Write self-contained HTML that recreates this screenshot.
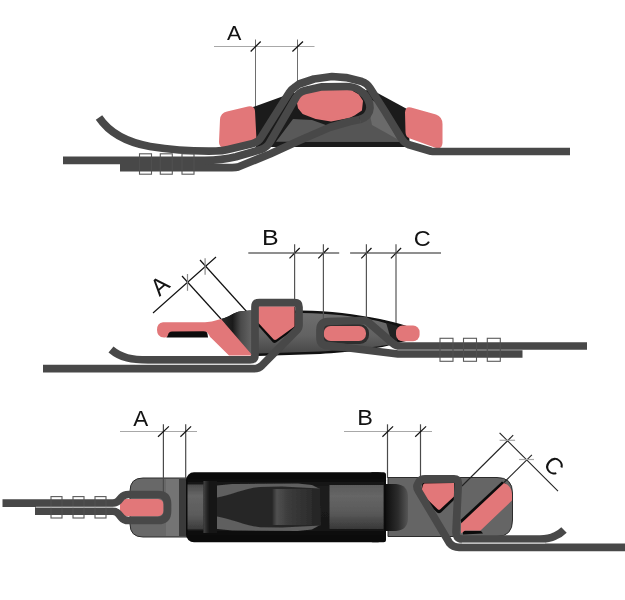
<!DOCTYPE html>
<html>
<head>
<meta charset="utf-8">
<title>Buckle webbing diagram</title>
<style>
  html, body { margin: 0; padding: 0; background: #ffffff; }
  body { width: 625px; height: 600px; overflow: hidden; font-family: "Liberation Sans", sans-serif; }
  svg { display: block; }
  .strap { fill: none; stroke: #484848; stroke-width: 7.7; stroke-linejoin: round; stroke-linecap: butt; }
  .red { fill: #e27779; }
  .lbl { opacity: 0.99; font-family: "Liberation Sans", sans-serif; font-size: 20px; fill: #111; }
  .dimh { stroke: #a8a8a8; stroke-width: 1.2; fill: none; }
  .dimv { stroke: #6e6e6e; stroke-width: 1; fill: none; }
  .tick { stroke: #111; stroke-width: 1.2; fill: none; }
  .thin { stroke: #222; stroke-width: 1.1; fill: none; }
  .sq { fill: #fff; stroke: #555; stroke-width: 1.1; }
  .sqo { fill: none; stroke: rgba(255,255,255,0.04); stroke-width: 1.2; }
</style>
</head>
<body>
<svg width="625" height="600" viewBox="0 0 625 600">
<defs>
  <linearGradient id="g2a" x1="0" y1="0" x2="1" y2="0">
    <stop offset="0" stop-color="#2a2a2a"/>
    <stop offset="0.35" stop-color="#1a1a1a"/>
    <stop offset="0.6" stop-color="#4a4a4a"/>
    <stop offset="1" stop-color="#6a6a6a"/>
  </linearGradient>
  <linearGradient id="g3neck" x1="0" y1="0" x2="1" y2="0">
    <stop offset="0" stop-color="#0f0f0f"/>
    <stop offset="0.55" stop-color="#2c2c2c"/>
    <stop offset="1" stop-color="#565656"/>
  </linearGradient>
  <linearGradient id="g3body" x1="0" y1="0" x2="0" y2="1">
    <stop offset="0" stop-color="#0b0b0b"/>
    <stop offset="0.15" stop-color="#1d1d1d"/>
    <stop offset="0.85" stop-color="#181818"/>
    <stop offset="1" stop-color="#0b0b0b"/>
  </linearGradient>
  <linearGradient id="g3v" x1="0" y1="0" x2="0" y2="1">
    <stop offset="0" stop-color="#4a4a4a"/>
    <stop offset="0.25" stop-color="#666"/>
    <stop offset="0.7" stop-color="#5a5a5a"/>
    <stop offset="1" stop-color="#3a3a3a"/>
  </linearGradient>
  <linearGradient id="g3v2" x1="0" y1="0" x2="0" y2="1">
    <stop offset="0" stop-color="#5a5a5a"/>
    <stop offset="0.25" stop-color="#666"/>
    <stop offset="0.65" stop-color="#585858"/>
    <stop offset="1" stop-color="#383838"/>
  </linearGradient>
  <linearGradient id="g3hl" x1="0" y1="0" x2="1" y2="0">
    <stop offset="0" stop-color="#272727"/>
    <stop offset="0.12" stop-color="#505050"/>
    <stop offset="0.4" stop-color="#3c3c3c"/>
    <stop offset="1" stop-color="#2c2c2c"/>
  </linearGradient>
  <linearGradient id="g3band" x1="0" y1="0" x2="1" y2="0">
    <stop offset="0" stop-color="#444"/>
    <stop offset="0.35" stop-color="#1a1a1a"/>
    <stop offset="1" stop-color="#141414"/>
  </linearGradient>
  <linearGradient id="g2b" x1="0" y1="0" x2="0" y2="1">
    <stop offset="0" stop-color="#6e6e6e"/>
    <stop offset="0.55" stop-color="#626262"/>
    <stop offset="1" stop-color="#474747"/>
  </linearGradient>
  <filter id="soft" x="-5%" y="-5%" width="110%" height="110%"><feGaussianBlur stdDeviation="0.7"/></filter>
</defs>
<rect width="625" height="600" fill="#ffffff"/>

<!-- ===================== FIGURE 1 (top) ===================== -->
<g id="fig1">
  <!-- dimension A -->
  <line class="dimh" x1="214" y1="46.5" x2="314.5" y2="46.5"/>
  <line class="dimv" x1="255.5" y1="39.5" x2="255.5" y2="108"/>
  <line class="dimv" x1="297.5" y1="39.5" x2="297.5" y2="82"/>
  <line class="tick" x1="250.7" y1="51.5" x2="260.7" y2="41.5"/>
  <line class="tick" x1="292.4" y1="51.5" x2="303" y2="41.5"/>
  <text class="lbl" transform="translate(226.96,40.2) scale(1.07725,1.05472)">A</text>

  <!-- stitch boxes -->
  <rect class="sq" x="139.5" y="153.8" width="12" height="20.4"/>
  <rect class="sq" x="160.3" y="153.8" width="12" height="20.4"/>
  <rect class="sq" x="182" y="153.8" width="12" height="20.4"/>

  <!-- buckle body -->
  <path d="M253,107 L292,93 L372,90 L407,109 L410,147 L256,147 Z" fill="#1b1b1b"/>
  <path d="M276,141.7 L293,119 L312,120 L330,126.5 L348,123 L368,117 L380,108 L399.5,141.7 Z" fill="#595959"/>
  <path d="M296,141.7 L300,140.3 L330,127.3 L350,121.5 L368,117 L380,108 L399.5,141.7 Z" fill="#555"/>
  <path d="M366,96 L378,104 L397,139 L372,125 Z" fill="#6a6a6a"/>

  <!-- red pads -->
  <path class="red" d="M227,111.5 L248,106.5 Q254.5,105.5 255,111 L256.5,140 L225,147.5 Q219,148 219,142 L220,119.5 Q220.5,113 227,111.5 Z"/>
  <path class="red" d="M411,107.5 L436,114.5 Q442.5,117 442.5,124 L442.5,143 Q442,149.5 436,148 L410,138.5 Q405.5,137 405.5,132 L405,112.5 Q405.5,106 411,107.5 Z"/>
  <path class="red" d="M298,103 L300,98 L305,94 L325,90 L351,91 L358,95 L362,101 L361,110 L355,114 L349,117 L331,120.5 L316,118 L303,113 L299,108 Z" stroke="#e27779" stroke-width="2" stroke-linejoin="round"/>

  <!-- straps -->
  <path class="strap" d="M360,119.5 L350,121.5 L330,127.3 L300,140.3 L270,154 L238,167 Q236,167.6 232,167.6 L120,167.6"/>
  <path class="strap" d="M63,160.4 L205,160.4 Q222,160.2 236,156.7 L261,149.5 Q267,147.5 270,142 L296,97.5 Q299,92 305,90.5 L322,86.8 L347,86.5 Q356,86.5 362,92 Q370,99 370,108 Q369.5,116.5 360,119.5"/>
  <path class="strap" d="M99,117.5 C110,134 128,142.5 150,146.5 C172,150 200,151.3 216,151 Q222,151 228,149.5 L252,143.8 Q258,142.5 261,137.5 L289,93 Q291,89.5 295,87 L299,84 L314,79 L332,76.5 L346,77.6 L362,81.6 Q367,83.2 370,88 L385,111.5 L401.5,138.5 Q404,143 409,144.8 L431,151.2 Q432.5,151.5 436,151.5 L570,151.5"/>

  <rect class="sqo" x="139.5" y="153.8" width="12" height="20.4"/>
  <rect class="sqo" x="160.3" y="153.8" width="12" height="20.4"/>
  <rect class="sqo" x="182" y="153.8" width="12" height="20.4"/>
</g>

<!-- ===================== FIGURE 2 (middle) ===================== -->
<g id="fig2">
  <!-- dimension B / C -->
  <line class="dimh" style="stroke:#6a6a6a;stroke-width:1.4" x1="248.3" y1="253" x2="339.2" y2="253"/>
  <line class="dimh" style="stroke:#6a6a6a;stroke-width:1.4" x1="350.1" y1="253" x2="441" y2="253"/>
  <line class="tick" x1="289.5" y1="258.3" x2="299.7" y2="248"/>
  <line class="tick" x1="318.3" y1="258.3" x2="328.5" y2="248"/>
  <line class="tick" x1="361.3" y1="258.3" x2="371.5" y2="248"/>
  <line class="tick" x1="390.9" y1="258.3" x2="401.1" y2="248"/>
  <text class="lbl" transform="translate(261.95,245.3) scale(1.24928,1.09773)">B</text>
  <text class="lbl" transform="translate(413.7,245.6) scale(1.17658,1.14381)">C</text>
  <!-- dimension A (angled) -->
  <line class="tick" x1="153" y1="313" x2="216" y2="257"/>
  <line class="tick" x1="182" y1="276" x2="221" y2="319"/>
  <line class="tick" x1="200" y1="260" x2="247" y2="312"/>
  <line class="dimh" style="stroke:#8a8a8a" x1="187.5" y1="274" x2="187.5" y2="290.8"/>
  <line class="dimh" style="stroke:#8a8a8a" x1="205.1" y1="258.3" x2="205.1" y2="274.8"/>
  <text class="lbl" transform="translate(159.8,285.65) rotate(-41.8) scale(1.17760,1.19808) translate(-6.6699,6.8799)">A</text>

  <!-- stitch boxes -->
  <rect class="sq" x="440" y="338.3" width="13" height="23"/>
  <rect class="sq" x="463.5" y="338.3" width="13" height="23"/>
  <rect class="sq" x="487.3" y="338.3" width="13" height="23"/>

  <!-- buckle body -->
  <path d="M221,319 C229,317.5 233,312.5 241,311.3 L250,310.5 L302,310.5 C330,311 355,314 380,319 C395,322 408,326 414,328.5 L414,339 L398,343 C380,349 350,352 320,354 L258,356 L236,340 Z" fill="#111"/>
  <path d="M224,320.5 C233,318 240,314.5 250,313 L302,313 C330,313.5 355,316 378,321 L392,325 L396,343 C380,347 350,350 320,351.5 L258,353.5 L238,340 Z" fill="url(#g2b)"/>
  <!-- dark left (lever hinge) -->
  <path d="M221,319 C229,317.5 233,312.5 241,311.3 L250,310.5 L254,311 L254,354 L250,354 Z" fill="url(#g2a)"/>
  <path d="M386,322.5 L397,326 L397,342 L392,343 Z" fill="#222"/>

  <line class="dimv" style="stroke:#555;stroke-width:1.2" x1="294.6" y1="244.3" x2="294.6" y2="300"/>
  <line class="dimv" style="stroke:#555;stroke-width:1.2" x1="323.4" y1="244.3" x2="323.4" y2="320"/>
  <line class="dimv" style="stroke:#555;stroke-width:1.2" x1="366.4" y1="244.3" x2="366.4" y2="319"/>
  <line class="dimv" style="stroke:#555;stroke-width:1.2" x1="396" y1="244.3" x2="396" y2="323"/>
  <!-- lever (red) -->
  <path d="M166.5,337.5 L167,334 Q168,330.8 171,330.5 L203,330 Q207,330.5 207.5,334 L208,337.5 Z" fill="#0c0c0c"/>
  <path class="red" d="M163,322.3 L205,322.3 C212,322 216,320 221,319 L252.5,355.5 L229,355.5 L211.5,338.3 Q210,337.3 209,335 Q207.5,331 203,331.2 L172,331.5 Q168.5,331.5 168,335 Q167.5,337.6 165,337.6 L164,337.6 Q157,337 157,330 Q157,323 163,322.3 Z"/>

  <!-- red bars -->
  <path d="M257.5,306.5 L295,306.5 L295.5,328.5 L276,342.5 Q274.5,343.3 273,342.5 L257.5,325 Z" fill="#0c0c0c"/>
  <path class="red" d="M258,306.5 L294.5,306.5 L294.5,326.5 L276.5,339.5 Q275,340.3 273.7,339.5 L258,322.5 Z"/>
  <rect x="321" y="324" width="48" height="20" rx="9" fill="#2e2e2e"/>
  <rect class="red" x="323.7" y="326" width="42.3" height="15" rx="7"/>
  <rect class="red" x="396" y="325.6" width="23.6" height="15.6" rx="6.5"/>

  <!-- straps -->
  <path class="strap" d="M330,346 L345,347.5 L398,354 L522.5,354"/>
  <path class="strap" d="M587,346 L400,346 Q396,346 393,343.5 L368,322 Q366,320.5 362,320.5 L328,321.5 Q320,322 320,330 L320,338 Q320,345 328,345.7 L345,347.5"/>
  <path class="strap" d="M43,368.7 L254,368.7 Q259,368.7 262,365.4 L297,330 Q299,328 299,325 L299,307 Q299,302.5 294.5,302.5 L259.5,302.5 Q255,302.5 255,307 L255,355 Q255,359.9 250,359.9 L148,359.9 C132,359.9 121,358 111,349.5"/>
  <line x1="135" y1="364.3" x2="256" y2="364.3" stroke="#ddd" stroke-width="0.8"/>

  <rect class="sqo" x="440" y="338.3" width="13" height="23"/>
  <rect class="sqo" x="463.5" y="338.3" width="13" height="23"/>
  <rect class="sqo" x="487.3" y="338.3" width="13" height="23"/>
</g>

<!-- ===================== FIGURE 3 (bottom) ===================== -->
<g id="fig3">
  <!-- stitch boxes -->
  <rect class="sq" x="51" y="496.6" width="11" height="21.4"/>
  <rect class="sq" x="73" y="496.6" width="11" height="21.4"/>
  <rect class="sq" x="95" y="496.6" width="11" height="21.4"/>

  <!-- left (male) gray body -->
  <path d="M143,478 L187,478 L187,537 L143,537 Q130,537 130,524 L130,491 Q130,478 143,478 Z" fill="#686868" stroke="#2c2c2c" stroke-width="1"/>
  <rect x="166" y="479" width="13" height="57" fill="#747474"/>
  <rect x="179" y="479" width="8" height="57" fill="#3a3a3a"/>
  <!-- right (female) gray body -->
  <path d="M388,477.5 L497,477.5 Q512.5,477.5 512.5,493 L512.5,520 Q512.5,536.5 497,536.5 L388,536.5 Z" fill="#656565" stroke="#2c2c2c" stroke-width="1"/>
  <path d="M386,484 L396,484 Q408,485 408,497 L408,518 Q408,530 396,531 L386,531 Z" fill="url(#g3neck)"/>

  <!-- black center buckle -->
  <rect x="186" y="472.3" width="200" height="70" rx="8" fill="#0b0b0b"/>
  <rect x="370" y="472.3" width="16" height="70" rx="2.5" fill="#0b0b0b"/>
  <g filter="url(#soft)">
    <rect x="188" y="479" width="196" height="56" fill="url(#g3body)"/>
    <rect x="187.5" y="484.5" width="16" height="45" fill="url(#g3v)"/>
    <rect x="329.5" y="485" width="54" height="44" fill="url(#g3v2)"/>
    <!-- cavity -->
    <path d="M217,485.5 L232,484 L298,483.5 L312,485 L320,489 L320,525 L312,529.5 L298,531 L232,530.5 L217,529 Z" fill="#5e5e5e"/>
    <path d="M217,497.5 C230,495.5 245,488.5 260,487 L282,486.6 L320,488.5 L321,525.5 L282,527.6 L260,527.2 C245,525.5 230,518.5 217,516.5 Z" fill="#272727"/>
    <rect x="272" y="489" width="40" height="36" fill="url(#g3hl)"/>
    <rect x="203.5" y="481" width="13.5" height="52" fill="url(#g3band)"/>
  </g>

  <!-- red bars -->
  <rect class="red" x="120" y="499" width="43.5" height="17.2" rx="5.5"/>
  <path d="M422.5,482.5 L455.5,482.5 L455.5,498.5 L441,512.5 Q439,514 437,512.5 L420.5,496 Z" fill="#0c0c0c"/>
  <path class="red" d="M424.5,483.5 L454,483 L454,496.5 L440.3,509.3 Q439,510.3 437.7,509.3 L421.8,494 Q420.8,493 421.3,491.5 L423,485 Q423.5,483.5 424.5,483.5 Z"/>
  <path d="M460.5,520 L502,481.5 L506,484 L462,525 Z" fill="#0c0c0c"/>
  <path d="M463,531 L481,531 L483,533.5 L463,534.5 Z" fill="#0c0c0c"/>
  <path class="red" d="M461,523.5 L504,483 Q511.5,485.5 512,494 L512,500.5 L480.5,530.5 L465,530.5 L461,533.5 Z"/>

  <!-- dimension A / B -->
  <line class="dimh" x1="120" y1="431.5" x2="197" y2="431.5"/>
  <line class="dimh" x1="344" y1="431.5" x2="432" y2="431.5"/>
  <line class="dimv" style="stroke:#4a4a4a;stroke-width:1.2" x1="163.4" y1="424.3" x2="163.4" y2="494"/>
  <line class="dimv" style="stroke:#4a4a4a;stroke-width:1.2" x1="185.7" y1="424.3" x2="185.7" y2="478"/>
  <line class="dimv" style="stroke:#4a4a4a;stroke-width:1.2" x1="387.5" y1="424.3" x2="387.5" y2="478"/>
  <line class="dimv" style="stroke:#4a4a4a;stroke-width:1.2" x1="420.5" y1="424.3" x2="420.5" y2="476"/>
  <line class="tick" x1="158" y1="436.8" x2="168.9" y2="426.4"/>
  <line class="tick" x1="180.4" y1="436.8" x2="191.1" y2="426.4"/>
  <line class="tick" x1="382.4" y1="436.8" x2="393.1" y2="426.4"/>
  <line class="tick" x1="415.2" y1="436.8" x2="426.1" y2="426.4"/>
  <text class="lbl" transform="translate(133.16,425.6) scale(1.12333,1.14074)">A</text>
  <text class="lbl" transform="translate(357.27,425.3) scale(1.17453,1.11923)">B</text>
  <!-- dimension C (angled) -->
  <line class="thin" x1="499.6" y1="432.8" x2="558" y2="491.2"/>
  <line class="thin" x1="513.2" y1="435.2" x2="462" y2="486"/>
  <line class="thin" x1="531.9" y1="454.9" x2="504" y2="482.5"/>
  <line class="dimh" x1="499.6" y1="440.3" x2="515.1" y2="440.3"/>
  <line class="dimh" x1="519.1" y1="459.5" x2="534" y2="459.5"/>
  <text class="lbl" transform="translate(554,466) rotate(44) scale(1.17760,1.17760) translate(-7.3438,6.8848)">C</text>

  <!-- straps -->
  <path class="strap" d="M35,511.2 L112.5,511.2 Q116,511.2 118.5,513.8 L121.5,517.5 Q124,520.5 128.5,520.5 L158,520.5 Q167.5,520.5 167.5,511 L167.5,504 Q167.5,494.5 158,494.5 L128.5,494.5 Q124,494.5 121.5,497.3 L118.5,500.8 Q116,503.2 112.5,503.2 L2.5,503.2"/>
  <line x1="36" y1="507.2" x2="116" y2="507.2" stroke="#ddd" stroke-width="0.8"/>
  <path class="strap" d="M625,547.3 L459,547.3 Q453,547.3 449.5,543 L418.5,491 Q416,487 417.5,484.5 L419.5,481 Q421,478.8 425,478.8 L454,478.8 Q458.5,478.8 458.3,483 L456,532 Q455.8,539 462,539 L540,539 Q549,539 555,536 Q560,534 564,530"/>
  <line x1="462" y1="543.1" x2="545" y2="543.1" stroke="#ddd" stroke-width="0.8"/>

  <rect class="sqo" x="51" y="496.6" width="11" height="21.4"/>
  <rect class="sqo" x="73" y="496.6" width="11" height="21.4"/>
  <rect class="sqo" x="95" y="496.6" width="11" height="21.4"/>
</g>
</svg>
</body>
</html>
